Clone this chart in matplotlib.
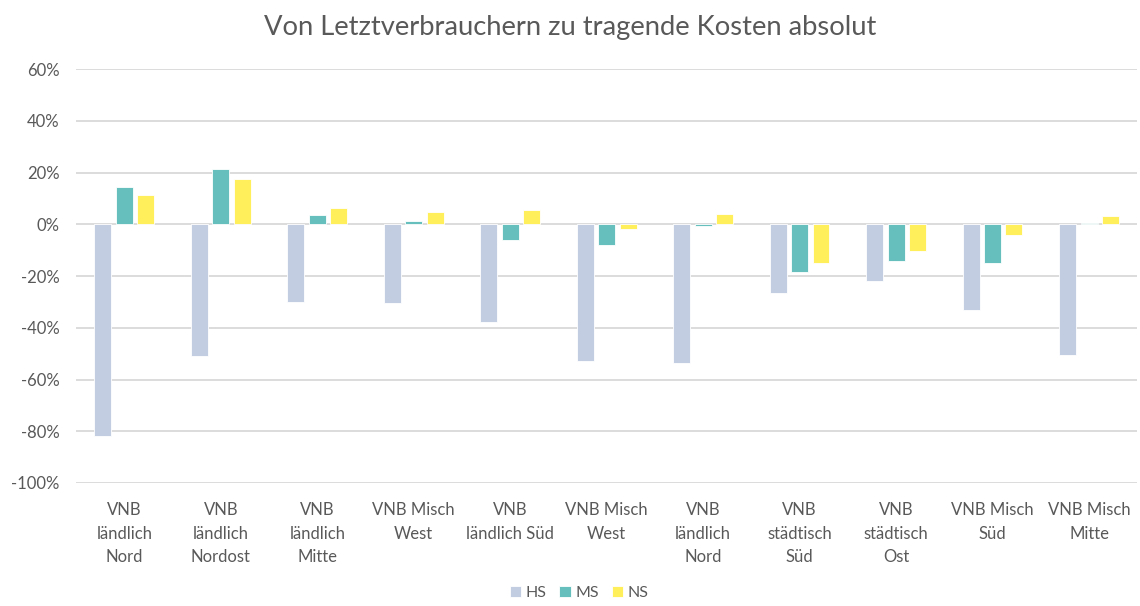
import matplotlib
matplotlib.use('Agg')
import matplotlib.pyplot as plt
import numpy as np
from matplotlib.ticker import FuncFormatter

categories = ['VNB\nländlich\nNord', 'VNB\nländlich\nNordost', 'VNB\nländlich\nMitte',
              'VNB Misch\nWest', 'VNB\nländlich Süd', 'VNB Misch\nWest', 'VNB\nländlich\nNord',
              'VNB\nstädtisch\nSüd', 'VNB\nstädtisch\nOst', 'VNB Misch\nSüd', 'VNB Misch\nMitte']
hs = [-82.0, -51.0, -29.9, -30.5, -37.7, -52.9, -53.7, -26.4, -21.9, -33.3, -50.4]
ms = [14.6, 21.3, 3.5, 1.3, -5.9, -7.9, -0.8, -18.3, -14.2, -14.9, 0.6]
ns = [11.2, 17.4, 6.4, 4.9, 5.6, -1.8, 4.1, -14.9, -10.4, -4.2, 3.3]

series = [('HS', hs, '#C3CDE1'), ('MS', ms, '#66BFBD'), ('NS', ns, '#FFEF5A')]

plt.rcParams['font.family'] = ['Lato', 'DejaVu Sans']

fig = plt.figure(figsize=(11.4, 6.06), dpi=100)
ax = fig.add_axes([0.0667, 0.203, 0.931, 0.683])

x = np.arange(len(categories))
width = 0.176
step = 0.221
for i, (name, vals, col) in enumerate(series):
    ax.bar(x + (i - 1) * step, vals, width, color=col, edgecolor='white',
           linewidth=0.6, label=name, zorder=3)

ax.set_xlim(-0.5, len(categories) - 0.5)
ax.set_ylim(-100, 60)
ax.set_yticks(np.arange(-100, 61, 20))
ax.yaxis.set_major_formatter(FuncFormatter(lambda v, p: f'{int(v)}%'))
ax.set_xticks(x)
ax.set_xticklabels(categories, fontsize=12, color='#595959', linespacing=1.55, va='top')
ax.tick_params(axis='both', length=0, labelsize=12, colors='#595959')
ax.tick_params(axis='x', pad=14)
ax.tick_params(axis='y', pad=12)
ax.grid(axis='y', color='#D9D9D9', linewidth=1.3, zorder=0)
for s in ax.spines.values():
    s.set_visible(False)

fig.suptitle('Von Letztverbrauchern zu tragende Kosten absolut', fontsize=19.7,
             color='#595959', y=0.975)
fig.legend(loc='lower center', ncol=3, frameon=False, fontsize=11.5,
           bbox_to_anchor=(0.508, -0.014), handlelength=0.7, handleheight=0.7,
           handletextpad=0.3, columnspacing=0.8, labelcolor='#595959')

fig.savefig('out.png', dpi=100)
